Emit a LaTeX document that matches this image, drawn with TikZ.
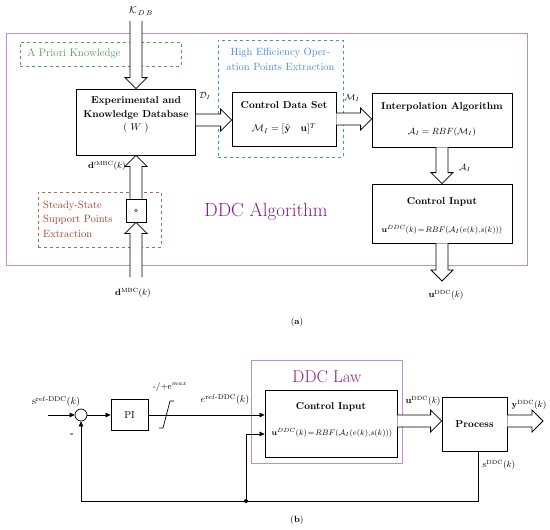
\documentclass[tikz,border=0pt]{standalone}
\usepackage{amsmath,amssymb}
\usetikzlibrary{calc,arrows.meta}
\definecolor{outerc}{RGB}{195,140,205}
\definecolor{ddcc}{RGB}{130,30,130}
\definecolor{greenc}{RGB}{90,155,90}
\definecolor{bluec}{RGB}{70,140,220}
\definecolor{redc}{RGB}{175,60,50}
\definecolor{redbox}{RGB}{170,105,80}
\newcommand{\hollowarrow}[2]{%
  \coordinate (hh) at ($(#2)!11pt!(#1)$);
  \draw[fill=white, line width=0.8pt, line join=miter]
    ($(#1)!6pt!90:(#2)$) -- ($(hh)!6pt!-90:(#1)$) -- ($(hh)!11pt!-90:(#1)$) -- (#2)
    -- ($(hh)!11pt!90:(#1)$) -- ($(hh)!6pt!90:(#1)$) -- ($(#1)!6pt!-90:(#2)$);}
\tikzset{
  box/.style={draw, line width=0.8pt, inner sep=0pt},
  lbl/.style={inner sep=0pt, font=\fontsize{9}{11}\selectfont},
  txt/.style={inner sep=0pt, align=center},
  sig/.style={line width=0.7pt, -{Triangle[length=5pt,width=4.5pt]}},
  wire/.style={line width=0.7pt}
}
\begin{document}
\begin{tikzpicture}[x=1pt,y=-1pt,font=\fontsize{10}{13}\selectfont]
\useasboundingbox (0,0) rectangle (550,530);
% ---------- (a) ----------
\node[draw=outerc, line width=0.8pt, minimum width=521pt, minimum height=232pt, inner sep=0pt] (outer) at (266.5,149) {};
\node[draw=greenc, dashed, line width=0.7pt, minimum width=161pt, minimum height=24pt, inner sep=0pt] (green) at (100.5,54) {};
\node[txt, text=greenc, font=\fontsize{11}{13}\selectfont] (greentxt) at (74,54) {A Priori Knowledge};
\node[draw=bluec, dashed, line width=0.7pt, minimum width=125pt, minimum height=117pt, inner sep=0pt] (blue) at (280.5,98.5) {};
\node[txt, text=bluec, font=\fontsize{10.5}{14.5}\selectfont] (bluetxt) at (280.5,59.5) {High Efficiency Oper-\\ation Points Extraction};
\node[draw=redbox, dashed, line width=0.7pt, minimum width=123pt, minimum height=55pt, inner sep=0pt] (red) at (99.5,219.5) {};
\node[inner sep=0pt, align=left, anchor=west, text=redc, font=\fontsize{10.5}{14.5}\selectfont] (redtxt) at (43,219) {Steady-State\\Support Points\\Extraction};

\node[box, minimum width=119pt, minimum height=66pt] (exp) at (136,122) {};
\node[txt, font=\fontsize{10}{13.5}\selectfont] (exptxt) at (136,115) {\textbf{Experimental and}\\\textbf{Knowledge Database}\\( $W$ )};
\node[box, minimum width=104pt, minimum height=54pt] (cds) at (284,119) {};
\node[txt] (cdst) at (284,105) {\textbf{Control Data Set}};
\node[txt, font=\fontsize{10}{12}\selectfont] (cdsf) at (284,129) {$\mathcal{M}_{I}=[\tilde{\mathbf{y}}\quad\mathbf{u}]^{T}$};
\node[box, minimum width=140pt, minimum height=54pt] (interp) at (442,120) {};
\node[txt] (interpt) at (442,107) {\textbf{Interpolation Algorithm}};
\node[txt, font=\fontsize{9}{11}\selectfont] (interpf) at (442,132) {$\mathcal{A}_{I}=RBF(\mathcal{M}_{I})$};
\node[box, minimum width=140pt, minimum height=59pt] (ctrl) at (442,213.5) {};
\node[txt] (ctrlt) at (442,202) {\textbf{Control Input}};
\node[txt, font=\fontsize{8.5}{10}\selectfont] (ctrlf) at (442,230) {$\mathbf{u}^{DDC}(k)\!=\!RBF(\mathcal{A}_{I}(e(k),\!s(k)))$};
\node[box, minimum width=20pt, minimum height=23pt] (small) at (136,210.5) {};
\draw[line width=0.4pt] (small.center) circle (1.3pt);

\coordinate (kin) at (136,21);
\coordinate (din) at (136,277);
\coordinate (uout) at (442,281);
\coordinate (e1) at (exp.east |- 0,120);
\coordinate (c1) at (cds.west |- 0,120);
\coordinate (c2) at (cds.east |- 0,119);
\coordinate (i2) at (interp.west |- 0,119);
\hollowarrow{kin}{exp.north}
\hollowarrow{e1}{c1}
\hollowarrow{c2}{i2}
\hollowarrow{interp.south}{ctrl.north}
\hollowarrow{ctrl.south}{uout}
\hollowarrow{din}{small.south}
\hollowarrow{small.north}{exp.south}

\node[lbl, font=\fontsize{10}{12}\selectfont] (kdb) at (141,11) {$\mathcal{K}_{\,D\,B}$};
\node[lbl] (dil) at (205,96) {$\mathcal{D}_{I}$};
\node[lbl] (mil) at (352,98) {$\mathcal{M}_{I}$};
\node[lbl] (ail) at (465,168) {$\mathcal{A}_{I}$};
\node[lbl] (uol) at (446,295) {$\mathbf{u}^{\mathrm{DDC}}(k)$};
\node[lbl, anchor=east] (dpl) at (126,166) {$\mathbf{d}'^{\mathrm{MBC}}(k)$};
\node[lbl] (dl) at (133,293) {$\mathbf{d}^{\mathrm{MBC}}(k)$};
\node[txt, text=ddcc, font=\fontsize{19}{22}\selectfont] (ddcalg) at (266,212) {DDC Algorithm};
\node[txt, font=\fontsize{9}{11}\selectfont] (capa) at (297,322) {(\textbf{a})};

% ---------- (b) ----------
\node[draw=outerc, line width=0.8pt, minimum width=151pt, minimum height=103pt, inner sep=0pt] (law) at (326.5,411.5) {};
\node[txt, text=ddcc, font=\fontsize{17}{20}\selectfont] (lawt) at (327,377) {DDC Law};
\node[box, minimum width=132pt, minimum height=67pt] (ctrl2) at (331,423.5) {};
\node[txt] (ctrl2t) at (331,407) {\textbf{Control Input}};
\node[txt, font=\fontsize{8}{10}\selectfont] (ctrl2f) at (332,433) {$\mathbf{u}^{DDC}(k)\!=\!RBF(\mathcal{A}_{I}(e(k),\!s(k)))$};
\node[box, minimum width=37pt, minimum height=31pt] (pi) at (129.5,415) {PI};
\node[box, minimum width=65pt, minimum height=54pt] (proc) at (474.5,424) {\textbf{Process}};
\node[draw, circle, line width=0.7pt, minimum size=12pt, inner sep=0pt] (sum) at (81,415) {};

\coordinate (sin) at (48,415);
\draw[sig] (sin) -- (sum.west);
\draw[sig] (sum.east) -- (pi.west);
\draw[sig] (pi.east) -- (ctrl2.west |- pi.east);
\draw[wire] (159,428) -- (163,428) -- (170,401) -- (174,401);
\coordinate (pb) at ($(proc.south)+(3.5,0)$);
\coordinate (fbr) at (478,501);
\coordinate (fbl) at (81,501);
\coordinate (j) at (246,501);
\coordinate (c2in) at ($(ctrl2.west)+(0,10.5)$);
\draw[sig] (pb) -- (fbr) -- (fbl) -- (sum.south);
\draw[sig] (j) |- (c2in);
\fill (j) circle (2pt);

\coordinate (ua) at (ctrl2.east |- 0,421);
\coordinate (ub) at (proc.west |- 0,421);
\coordinate (ya) at (proc.east |- 0,421);
\coordinate (yb) at (543,421);
\hollowarrow{ua}{ub}
\hollowarrow{ya}{yb}

\node[lbl, font=\fontsize{10}{12}\selectfont] (srefl) at (56,402) {$\mathrm{s}^{\mathrm{ref\text{-}DDC}}(k)$};
\node[lbl] (minus) at (72,435) {\textbf{-}};
\node[lbl] (satl) at (170,387) {-/+e$^{max}$};
\node[lbl, font=\fontsize{10}{12}\selectfont] (erefl) at (225,400) {$e^{\mathrm{ref\text{-}DDC}}(k)$};
\node[lbl] (u2l) at (423,401) {$\mathbf{u}^{\mathrm{DDC}}(k)$};
\node[lbl] (yl) at (529,405) {$\mathbf{y}^{\mathrm{DDC}}(k)$};
\node[lbl] (sl) at (499,465) {$\mathrm{s}^{\mathrm{DDC}}(k)$};
\node[txt, font=\fontsize{9}{11}\selectfont] (capb) at (297,520) {(\textbf{b})};
\end{tikzpicture}
\end{document}
